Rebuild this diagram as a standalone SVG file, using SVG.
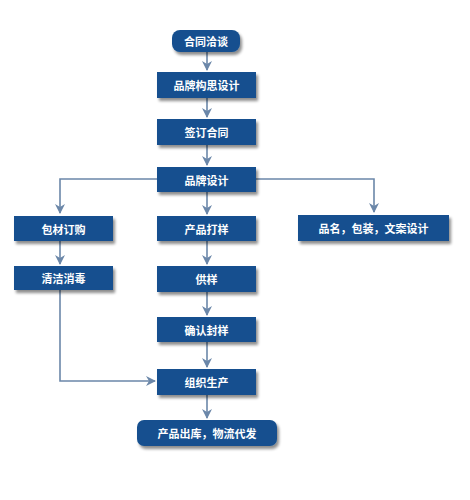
<svg xmlns="http://www.w3.org/2000/svg" width="470" height="500" viewBox="0 0 470 500">
<defs>
<filter id="sh" x="-10%" y="-20%" width="125%" height="160%">
<feGaussianBlur in="SourceAlpha" stdDeviation="1.5"/>
<feOffset dx="2" dy="2.5" result="b"/>
<feComponentTransfer><feFuncA type="linear" slope="0.45"/></feComponentTransfer>
<feMerge><feMergeNode/><feMergeNode in="SourceGraphic"/></feMerge>
</filter>
<marker id="ar" viewBox="0 0 10 10" refX="9" refY="5" markerWidth="10" markerHeight="10" markerUnits="userSpaceOnUse" orient="auto">
<path d="M0,0 L10,5 L0,10 L3,5 z" fill="#6b87a9"/>
</marker>
</defs>
<style>
.box{fill:#15508f;filter:url(#sh);}
.t{fill:#ffffff;font-family:"Noto Sans CJK SC","Noto Sans",sans-serif;font-size:11px;font-weight:bold;text-anchor:middle;dominant-baseline:central;}
.c{fill:none;stroke:#6b87a9;stroke-width:1.6;marker-end:url(#ar);}
</style>
<rect width="470" height="500" fill="#ffffff"/>
<g id="connectors">
<path class="c" d="M207,52 V70"/>
<path class="c" d="M207,98 V117"/>
<path class="c" d="M207,145 V165"/>
<path class="c" d="M157,179 H60 V213"/>
<path class="c" d="M256,179 H374 V212"/>
<path class="c" d="M207,192 V214"/>
<path class="c" d="M60,241 V264"/>
<path class="c" d="M207,241 V264"/>
<path class="c" d="M207,292 V315"/>
<path class="c" d="M207,342 V367"/>
<path class="c" d="M60,290 V381 H155"/>
<path class="c" d="M207,395 V418"/>
</g>
<g id="n1"><rect class="box" x="172" y="30" width="68" height="22" rx="8"/><text class="t" x="206" y="41">合同洽谈</text></g>
<g id="n2"><rect class="box" x="157" y="72" width="99" height="26"/><text class="t" x="206.5" y="85">品牌构思设计</text></g>
<g id="n3"><rect class="box" x="157" y="119" width="99" height="26"/><text class="t" x="206.5" y="132">签订合同</text></g>
<g id="n4"><rect class="box" x="157" y="167" width="99" height="25"/><text class="t" x="206.5" y="179.5">品牌设计</text></g>
<g id="n5"><rect class="box" x="14" y="216" width="99" height="25"/><text class="t" x="63.5" y="228.5">包材订购</text></g>
<g id="n6"><rect class="box" x="157" y="216" width="99" height="25"/><text class="t" x="206.5" y="228.5">产品打样</text></g>
<g id="n7"><rect class="box" x="298" y="215" width="151" height="26"/><text class="t" x="373.5" y="228">品名，包装，文案设计</text></g>
<g id="n8"><rect class="box" x="14" y="266" width="99" height="24"/><text class="t" x="63.5" y="278">清洁消毒</text></g>
<g id="n9"><rect class="box" x="157" y="266" width="99" height="26"/><text class="t" x="206.5" y="279">供样</text></g>
<g id="n10"><rect class="box" x="157" y="317" width="99" height="25"/><text class="t" x="206.5" y="329.5">确认封样</text></g>
<g id="n11"><rect class="box" x="157" y="369" width="99" height="26"/><text class="t" x="206.5" y="382">组织生产</text></g>
<g id="n12"><rect class="box" x="137" y="420" width="140" height="26" rx="7"/><text class="t" x="207" y="433">产品出库，物流代发</text></g>
</svg>
